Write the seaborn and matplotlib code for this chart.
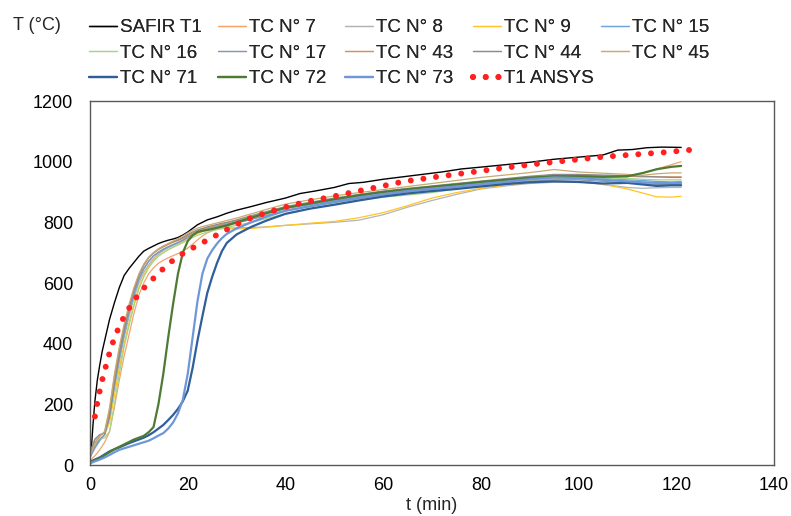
import numpy as np
import pandas as pd
import matplotlib
matplotlib.use("Agg")
import matplotlib.pyplot as plt
from matplotlib.ticker import MultipleLocator
import seaborn as sns

# ---------------- data ----------------
TIME = [0, 1, 2, 3, 4, 5, 6, 7, 8, 9, 10, 11, 12, 13, 14, 15, 16, 17, 18, 19, 20,
        21, 22, 23, 24, 25, 26, 27, 28,
        30, 33, 36, 40, 45, 50, 55, 60, 65, 70, 75, 80, 85, 90, 95, 100, 105,
        110, 113, 116, 119, 121]

safir_t = [0, 0.3, 0.6, 1, 1.5, 2, 2.5, 3, 4, 5, 6, 7, 8, 9, 10, 11, 12, 13, 14,
           15, 16, 17, 18, 19, 20, 22, 24, 26, 28, 30, 33, 36, 40, 43, 46, 50, 53,
           56, 60, 64, 68, 72, 76, 80, 85, 90, 95, 100, 105, 108, 111, 114, 117, 121]
safir_T = [20, 60, 130, 210, 280, 330, 375, 410, 480, 535, 585, 625, 648, 668, 688,
           705, 714, 722, 730, 736, 741, 745, 750, 758, 768, 792, 808, 818, 830, 840,
           852, 865, 880, 895, 903, 915, 928, 932, 942, 950, 958, 966, 976, 982, 990,
           998, 1008, 1015, 1022, 1038, 1040, 1046, 1048, 1047]

ansys_t = [1.0, 1.5, 2, 2.6, 3.3, 4, 4.8, 5.8, 7, 8.3, 9.8, 11.5, 13.4, 15.3, 17.3,
           19.5, 22, 24.3, 26.5, 29, 31.5, 34, 37, 40, 44, 50, 54, 60, 64, 70, 77,
           84, 91, 98, 105, 111, 117, 121, 125]
ansys_T = [160, 205, 245, 287, 329, 370, 410, 450, 490, 525, 560, 592, 622, 652, 679,
           702, 724, 744, 763, 785, 805, 821, 836, 850, 867, 886, 900, 920, 934, 948,
           963, 978, 992, 1004, 1016, 1023, 1030, 1036, 1042]

tc7 = [15, 30, 50, 75, 110, 190, 280, 360, 430, 500, 560, 600, 630, 650, 665, 675,
       683, 690, 697, 705, 715, 728, 742, 755, 765, 772, 778, 783, 788,
       797, 810, 824, 840, 853, 866, 878, 890, 900, 908, 916, 922, 930, 937, 944,
       946, 946, 950, 962, 976, 990, 1000]
tc8 = [40, 85, 100, 105, 150, 250, 340, 420, 490, 550, 600, 635, 660, 680, 695, 707,
       716, 724, 732, 740, 750, 758, 765, 770, 774, 777, 779, 780, 781,
       782, 783, 785, 790, 795, 800, 807, 825, 850, 872, 892, 910, 920, 928, 932,
       934, 925, 915, 912, 914, 915, 915]
tc9 = [30, 60, 85, 100, 140, 230, 320, 400, 470, 530, 585, 625, 655, 675, 690, 700,
       710, 718, 726, 735, 745, 755, 763, 770, 774, 777, 778, 779, 779,
       778, 780, 784, 790, 797, 803, 815, 832, 855, 880, 898, 912, 922, 932, 940,
       942, 925, 910, 897, 884, 883, 886]
tc15 = [25, 55, 80, 100, 160, 260, 350, 430, 500, 560, 610, 645, 670, 688, 700, 710,
        718, 725, 732, 740, 750, 760, 768, 774, 779, 784, 788, 792, 795,
        802, 815, 828, 845, 858, 872, 885, 897, 906, 914, 922, 930, 938, 945, 950,
        948, 945, 940, 938, 935, 933, 935]
tc16 = [30, 70, 85, 90, 110, 200, 300, 390, 460, 525, 580, 620, 650, 672, 688, 700,
        710, 718, 725, 733, 742, 750, 757, 763, 768, 772, 776, 780, 784,
        790, 800, 812, 828, 845, 860, 873, 883, 890, 898, 910, 920, 930, 938, 942,
        945, 942, 945, 942, 940, 940, 940]
tc17 = [25, 60, 85, 100, 170, 270, 360, 440, 510, 570, 615, 648, 672, 690, 702, 712,
        720, 727, 734, 742, 752, 761, 768, 773, 777, 781, 785, 789, 792,
        798, 810, 822, 838, 852, 865, 878, 890, 900, 908, 915, 922, 930, 935, 940,
        940, 935, 930, 928, 925, 925, 925]
tc43 = [35, 75, 95, 110, 180, 290, 380, 455, 520, 578, 625, 658, 682, 698, 710, 719,
        727, 734, 740, 747, 756, 765, 772, 778, 782, 786, 790, 794, 798,
        806, 820, 833, 850, 864, 878, 890, 900, 910, 918, 926, 934, 942, 950, 955,
        955, 953, 952, 950, 950, 950, 950]
tc44 = [40, 85, 100, 105, 160, 270, 370, 450, 520, 578, 625, 660, 684, 700, 712, 721,
        729, 736, 742, 750, 760, 768, 775, 780, 785, 789, 793, 797, 800,
        808, 822, 835, 852, 866, 880, 892, 903, 912, 920, 928, 936, 944, 952, 958,
        958, 956, 954, 952, 950, 948, 948]
tc45 = [30, 70, 95, 110, 190, 300, 390, 465, 530, 585, 630, 662, 685, 700, 712, 722,
        730, 738, 746, 755, 765, 774, 781, 786, 790, 794, 798, 802, 806,
        814, 828, 842, 860, 874, 887, 898, 908, 918, 928, 938, 948, 956, 964, 974,
        966, 962, 958, 955, 960, 963, 963]
tc71 = [10, 18, 25, 35, 45, 52, 58, 65, 72, 78, 84, 90, 98, 108, 120, 132, 148, 165,
        185, 210, 245, 320, 410, 490, 567, 620, 666, 705, 732,
        760, 785, 805, 828, 845, 858, 872, 885, 895, 903, 910, 918, 926, 932, 935,
        933, 928, 930, 925, 920, 922, 922]
tc72 = [8, 15, 22, 32, 42, 52, 60, 68, 76, 84, 90, 96, 108, 125, 200, 300, 420, 530,
        630, 700, 738, 757, 768, 772, 775, 778, 782, 786, 790,
        800, 815, 830, 848, 862, 876, 889, 900, 909, 917, 925, 933, 940, 947, 952,
        952, 950, 952, 962, 975, 983, 986]
tc73 = [5, 12, 18, 25, 33, 42, 50, 55, 60, 65, 70, 75, 80, 88, 97, 105, 120, 140,
        170, 215, 300, 420, 540, 630, 680, 708, 730, 748, 762,
        780, 800, 818, 838, 853, 868, 881, 893, 903, 911, 918, 926, 934, 942, 948,
        946, 940, 935, 932, 930, 930, 930]

LABELS = ["SAFIR T1", "TC N° 7", "TC N° 8", "TC N° 9", "TC N° 15",
          "TC N° 16", "TC N° 17", "TC N° 43", "TC N° 44", "TC N° 45",
          "TC N° 71", "TC N° 72", "TC N° 73", "T1 ANSYS"]

# ---------------- style ----------------
sns.set_theme(style="white")
plt.rcParams["font.family"] = ["Liberation Sans", "DejaVu Sans"]

COLORS = {
    "SAFIR T1": "#000000", "TC N° 7": "#F4A36B", "TC N° 8": "#B4B4B4",
    "TC N° 9": "#FFC525", "TC N° 15": "#6FA4DA", "TC N° 16": "#A5D48A",
    "TC N° 17": "#8796B4", "TC N° 43": "#D88F62", "TC N° 44": "#8C8C8C",
    "TC N° 45": "#C8AA70", "TC N° 71": "#2F5F9A", "TC N° 72": "#4E7A35",
    "TC N° 73": "#6F96D6", "T1 ANSYS": "#FF2020",
}

fig = plt.figure(figsize=(7.91, 5.16), dpi=100)
ax = fig.add_axes([90 / 791, 1 - 465 / 516, 684 / 791, 364 / 516])

series = [("SAFIR T1", safir_t, safir_T, 1.0),
          ("TC N° 7", TIME, tc7, 0.9), ("TC N° 8", TIME, tc8, 0.9),
          ("TC N° 9", TIME, tc9, 0.9), ("TC N° 15", TIME, tc15, 0.9),
          ("TC N° 16", TIME, tc16, 0.9), ("TC N° 17", TIME, tc17, 0.9),
          ("TC N° 43", TIME, tc43, 0.9), ("TC N° 44", TIME, tc44, 0.9),
          ("TC N° 45", TIME, tc45, 0.9), ("TC N° 71", TIME, tc71, 1.6),
          ("TC N° 72", TIME, tc72, 1.6), ("TC N° 73", TIME, tc73, 1.6),
          ("T1 ANSYS", ansys_t, ansys_T, 4.3)]

handles = {}
for name, tt, vv, lw in series:
    df = pd.DataFrame({"t": tt, "T": vv})
    sns.lineplot(data=df, x="t", y="T", ax=ax, color=COLORS[name], lw=lw,
                 sort=False, estimator=None, legend=False)
    line = ax.lines[-1]
    if name == "T1 ANSYS":
        line.set_linestyle((0, (0.001, 2.13)))
        line.set_dash_capstyle("round")
    line.set_label(name)
    handles[name] = line

ax.set_xlim(0, 140)
ax.set_ylim(0, 1200)
ax.xaxis.set_major_locator(MultipleLocator(20))
ax.xaxis.set_minor_locator(MultipleLocator(4))
ax.yaxis.set_major_locator(MultipleLocator(200))
ax.yaxis.set_minor_locator(MultipleLocator(40))
ax.tick_params(which="both", direction="in", length=4, width=0.8,
               color="#595959", labelsize=13, labelcolor="black",
               top=False, right=False)
ax.tick_params(axis="y", which="both", pad=12)
ax.tick_params(axis="x", which="both", pad=9)
for sp in ax.spines.values():
    sp.set_color("#595959")
    sp.set_linewidth(1.0)
    sp.set_visible(True)

ax.set_xlabel("t (min)", fontsize=13, labelpad=2)
ax.set_ylabel("T (°C)", fontsize=13, rotation=0, ha="center", va="center")
ax.yaxis.set_label_coords((37 - 90) / 684, (465 - 25) / 364)

# legend: five columns at fixed positions
cols = [["SAFIR T1", "TC N° 16", "TC N° 71"],
        ["TC N° 7", "TC N° 17", "TC N° 72"],
        ["TC N° 8", "TC N° 43", "TC N° 73"],
        ["TC N° 9", "TC N° 44", "T1 ANSYS"],
        ["TC N° 15", "TC N° 45"]]
col_x = [89, 218, 345, 473, 601]
for xs, names in zip(col_x, cols):
    leg = fig.legend([handles[n] for n in names], names, loc="upper left",
                     bbox_to_anchor=(xs / 791, 1 - 19 / 516), frameon=False,
                     borderpad=0, borderaxespad=0, handlelength=1.5,
                     handletextpad=0.15, labelspacing=0.45, fontsize=13.5)
    fig.add_artist(leg)

fig.savefig("out.png", dpi=100)
